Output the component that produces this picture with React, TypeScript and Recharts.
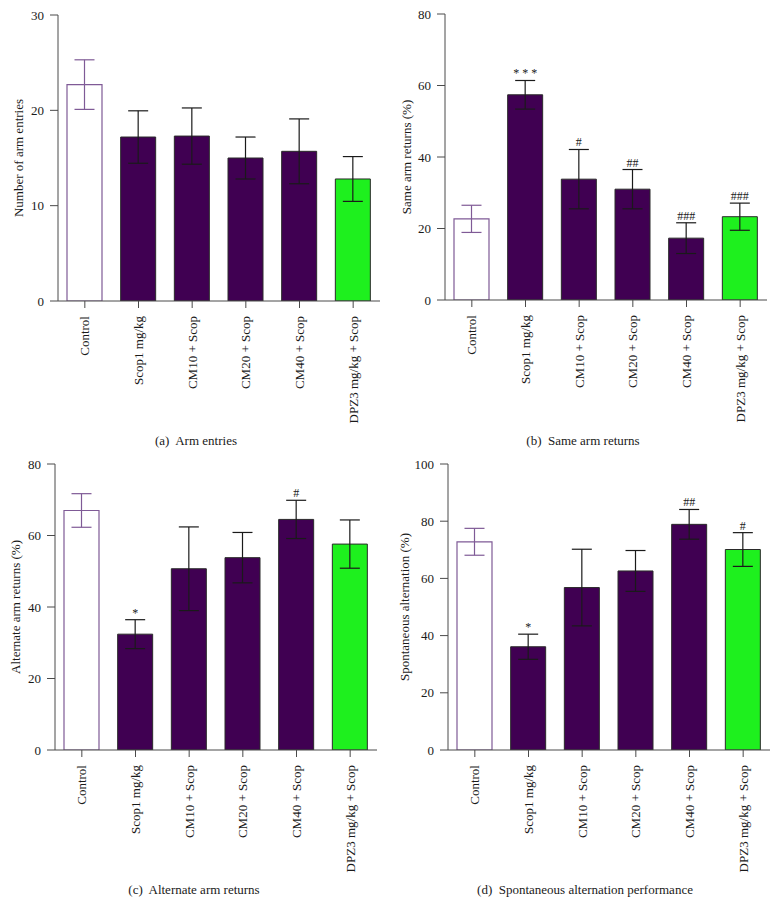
import React from "react";
import {
  ComposedChart,
  Bar,
  XAxis,
  YAxis,
  ErrorBar,
  Cell,
  LabelList,
  Label,
} from "recharts";

// Treatment groups (x-axis categories)
const groups = [
  "Control",
  "Scop1 mg/kg",
  "CM10 + Scop",
  "CM20 + Scop",
  "CM40 + Scop",
  "DPZ3 mg/kg + Scop",
];

// (a) Number of arm entries: mean, SEM, significance marks
const armEntries = [22.7, 17.2, 17.3, 15.0, 15.7, 12.8];
const armEntriesSem = [2.6, 2.75, 2.95, 2.2, 3.4, 2.35];
const armEntriesSig = ["", "", "", "", "", ""];
const armEntriesTicks = [0, 10, 20, 30];

// (b) Same arm returns (%)
const sameArm = [22.7, 57.4, 33.8, 31.0, 17.3, 23.3];
const sameArmSem = [3.8, 4.0, 8.3, 5.5, 4.3, 3.8];
const sameArmSig = ["", "* * *", "#", "##", "###", "###"];
const sameArmTicks = [0, 20, 40, 60, 80];

// (c) Alternate arm returns (%)
const altArm = [67.0, 32.4, 50.7, 53.8, 64.5, 57.6];
const altArmSem = [4.7, 4.05, 11.7, 7.05, 5.35, 6.75];
const altArmSig = ["", "*", "", "", "#", ""];
const altArmTicks = [0, 20, 40, 60, 80];

// (d) Spontaneous alternation (%)
const spont = [72.8, 36.1, 56.8, 62.6, 78.9, 70.1];
const spontSem = [4.7, 4.4, 13.4, 7.15, 5.2, 5.9];
const spontSig = ["", "*", "", "", "##", "#"];
const spontTicks = [0, 20, 40, 60, 80, 100];

const FONT = "'Liberation Serif', 'Times New Roman', serif";
const TEXT = "#1a1a1a";
const AXIS = "#4a4a4a";
const PURPLE = "#400052";
const CONTROL_STROKE = "#7f5a96";
const GREEN = "#1ef01e";

type Row = {
  group: string;
  ctrl: number | null;
  ctrlErr: number | null;
  treat: number | null;
  treatErr: number | null;
  tip: number | null;
  sig: string;
};

function buildRows(values: number[], sems: number[], sigs: string[]): Row[] {
  return groups.map((g, i) => ({
    group: g,
    ctrl: i === 0 ? values[i] : null,
    ctrlErr: i === 0 ? sems[i] : null,
    treat: i > 0 ? values[i] : null,
    treatErr: i > 0 ? sems[i] : null,
    tip: sigs[i] ? values[i] + sems[i] : null,
    sig: sigs[i],
  }));
}

const GroupTick = (props: any) => {
  const { x, y, payload } = props;
  return (
    <text
      x={x}
      y={y}
      transform={`rotate(-90 ${x} ${y})`}
      textAnchor="end"
      dominantBaseline="central"
      fontSize={13}
      fontFamily={FONT}
      fill={TEXT}
    >
      {payload.value}
    </text>
  );
};

const yTitle = (text: string, cx: number) => (props: any) => {
  const vb = props.viewBox || {};
  const cy = (vb.y ?? 0) + (vb.height ?? 0) / 2;
  return (
    <text
      x={cx}
      y={cy}
      transform={`rotate(-90 ${cx} ${cy})`}
      textAnchor="middle"
      dominantBaseline="central"
      fontSize={13}
      fontFamily={FONT}
      fill={TEXT}
    >
      {text}
    </text>
  );
};

type PanelProps = {
  left: number;
  top: number;
  width: number;
  height: number;
  margin: { top: number; right: number; bottom: number; left: number };
  values: number[];
  sems: number[];
  sigs: string[];
  ticks: number[];
  yTitleText: string;
  yTitleX: number;
};

function Panel(p: PanelProps) {
  const rows = buildRows(p.values, p.sems, p.sigs);
  const yMax = p.ticks[p.ticks.length - 1];
  return (
    <div style={{ position: "absolute", left: p.left, top: p.top }}>
      <ComposedChart width={p.width} height={p.height} data={rows} margin={p.margin}>
        <XAxis
          xAxisId="main"
          dataKey="group"
          interval={0}
          tick={<GroupTick />}
          tickSize={7}
          tickMargin={8}
          height={130}
          stroke={AXIS}
          tickLine={{ stroke: AXIS }}
        />
        <XAxis xAxisId="treat" dataKey="group" hide />
        <XAxis xAxisId="marks" dataKey="group" hide />
        <YAxis
          domain={[0, yMax]}
          ticks={p.ticks}
          width={40}
          tickSize={8}
          tickMargin={6}
          stroke={AXIS}
          tickLine={{ stroke: AXIS }}
          tick={{ fontSize: 13, fontFamily: FONT, fill: TEXT }}
          allowDataOverflow
        >
          <Label content={yTitle(p.yTitleText, p.yTitleX)} />
        </YAxis>
        <Bar
          xAxisId="main"
          dataKey="ctrl"
          barSize={35}
          fill="#ffffff"
          stroke={CONTROL_STROKE}
          strokeWidth={1.2}
          isAnimationActive={false}
        >
          <ErrorBar dataKey="ctrlErr" width={10} stroke={CONTROL_STROKE} strokeWidth={1.2} />
        </Bar>
        <Bar
          xAxisId="treat"
          dataKey="treat"
          barSize={35}
          stroke="#2a2a2a"
          strokeWidth={1}
          isAnimationActive={false}
        >
          {rows.map((r, i) => (
            <Cell key={r.group} fill={i === groups.length - 1 ? GREEN : PURPLE} />
          ))}
          <ErrorBar dataKey="treatErr" width={10} stroke="#1a1a1a" strokeWidth={1.2} />
        </Bar>
        <Bar
          xAxisId="marks"
          dataKey="tip"
          barSize={35}
          fill="none"
          stroke="none"
          isAnimationActive={false}
        >
          <LabelList
            dataKey="sig"
            position="top"
            offset={3}
            fontSize={12}
            fontFamily={FONT}
            fill={TEXT}
          />
        </Bar>
      </ComposedChart>
    </div>
  );
}

const captionStyle: React.CSSProperties = {
  position: "absolute",
  width: 300,
  textAlign: "center",
  fontFamily: FONT,
  fontSize: 13,
  lineHeight: "15px",
  color: TEXT,
  whiteSpace: "pre",
};

export default function App() {
  return (
    <div
      style={{
        position: "absolute",
        left: 0,
        top: 0,
        width: 778,
        height: 905,
        background: "#ffffff",
        overflow: "hidden",
      }}
    >
      <Panel
        left={0}
        top={0}
        width={389}
        height={450}
        margin={{ top: 15, right: 9, bottom: 19, left: 18 }}
        values={armEntries}
        sems={armEntriesSem}
        sigs={armEntriesSig}
        ticks={armEntriesTicks}
        yTitleText="Number of arm entries"
        yTitleX={18}
      />
      <Panel
        left={389}
        top={0}
        width={389}
        height={450}
        margin={{ top: 14, right: 11, bottom: 20, left: 16 }}
        values={sameArm}
        sems={sameArmSem}
        sigs={sameArmSig}
        ticks={sameArmTicks}
        yTitleText="Same arm returns (%)"
        yTitleX={17}
      />
      <Panel
        left={0}
        top={450}
        width={389}
        height={455}
        margin={{ top: 14, right: 12, bottom: 25, left: 15 }}
        values={altArm}
        sems={altArmSem}
        sigs={altArmSig}
        ticks={altArmTicks}
        yTitleText="Alternate arm returns (%)"
        yTitleX={15}
      />
      <Panel
        left={389}
        top={450}
        width={389}
        height={455}
        margin={{ top: 14, right: 8, bottom: 25, left: 19 }}
        values={spont}
        sems={spontSem}
        sigs={spontSig}
        ticks={spontTicks}
        yTitleText="Spontaneous alternation (%)"
        yTitleX={15}
      />
      <div style={{ ...captionStyle, left: 196 - 150, top: 433 }}>(a)  Arm entries</div>
      <div style={{ ...captionStyle, left: 583 - 150, top: 433 }}>(b)  Same arm returns</div>
      <div style={{ ...captionStyle, left: 194 - 150, top: 882 }}>(c)  Alternate arm returns</div>
      <div style={{ ...captionStyle, left: 585 - 150, top: 882 }}>
        (d)  Spontaneous alternation performance
      </div>
    </div>
  );
}
